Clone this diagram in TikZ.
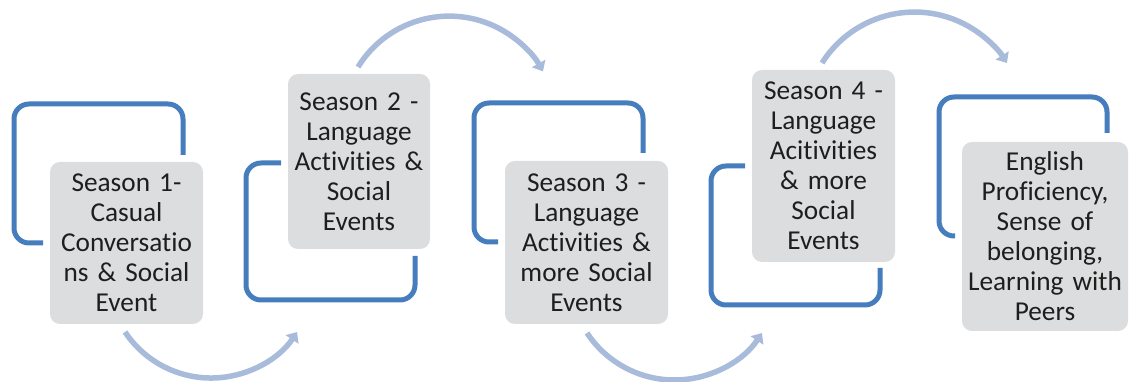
\documentclass[tikz,border=0pt]{standalone}
\usepackage{fontspec}
\setmainfont{Carlito}[RawFeature={-liga;-calt;-clig;-dlig}]
\usetikzlibrary{arrows.meta}
\definecolor{bracketblue}{RGB}{70,125,189}
\definecolor{boxgray}{RGB}{220,221,222}
\definecolor{arrowblue}{RGB}{168,187,219}
\definecolor{textcol}{RGB}{30,30,30}
\tikzset{
  stagebox/.style={rectangle, rounded corners=10pt, fill=boxgray, draw=none,
    inner sep=0pt, align=center, text=textcol,
    font=\fontsize{27.3}{30}\selectfont},
  bracket/.style={draw=bracketblue, line width=5pt, rounded corners=15pt},
  flowarrow/.style={draw=arrowblue, line width=5.5pt,
    -{Triangle[length=9pt,width=15pt]}},
}
\begin{document}
\begin{tikzpicture}[x=1pt,y=1pt]
\useasboundingbox (0,0) rectangle (1129,382);
% brackets
\draw[bracket] (43,139) -- (14,139) -- (14,278) -- (183,278) -- (183,227);
\draw[bracket] (281,219) -- (246,219) -- (246,82) -- (415,82) -- (415,126);
\draw[bracket] (498,140) -- (474,140) -- (474,279) -- (643,279) -- (643,229);
\draw[bracket] (745,216) -- (711,216) -- (711,77) -- (880,77) -- (880,114);
\draw[bracket] (955,146) -- (939,146) -- (939,285) -- (1107,285) -- (1107,249);
% boxes
\node[stagebox, minimum width=153pt, minimum height=162pt, text width=153pt] (b1) at (126.5,139)
  {Season 1-\\Casual\\Conversatio\\ns \& Social\\Event};
\node[stagebox, minimum width=142pt, minimum height=175pt, text width=142pt] (b2) at (359,220.5)
  {Season 2 -\\Language\\Activities \&\\Social\\Events};
\node[stagebox, minimum width=163pt, minimum height=163pt, text width=163pt] (b3) at (586.5,139.5)
  {Season 3 -\\Language\\Activities \&\\more Social\\Events};
\node[stagebox, minimum width=143pt, minimum height=192pt, text width=143pt] (b4) at (823.5,216)
  {Season 4 -\\Language\\Acitivities\\\& more\\Social\\Events};
\node[stagebox, minimum width=166pt, minimum height=189pt, text width=166pt] (b5) at (1045,145.5)
  {English\\Proficiency,\\Sense of\\belonging,\\Learning with\\Peers};
% arrows
\draw[flowarrow] (125,50) arc[start angle=213.7, end angle=326.3, radius=103.4];
\draw[flowarrow] (358,315) arc[start angle=148.3, end angle=29, radius=107.2];
\draw[flowarrow] (587,49) arc[start angle=213.5, end angle=326.5, radius=104.9];
\draw[flowarrow] (822,319) arc[start angle=147.7, end angle=32.3, radius=109.4];
\end{tikzpicture}
\end{document}
